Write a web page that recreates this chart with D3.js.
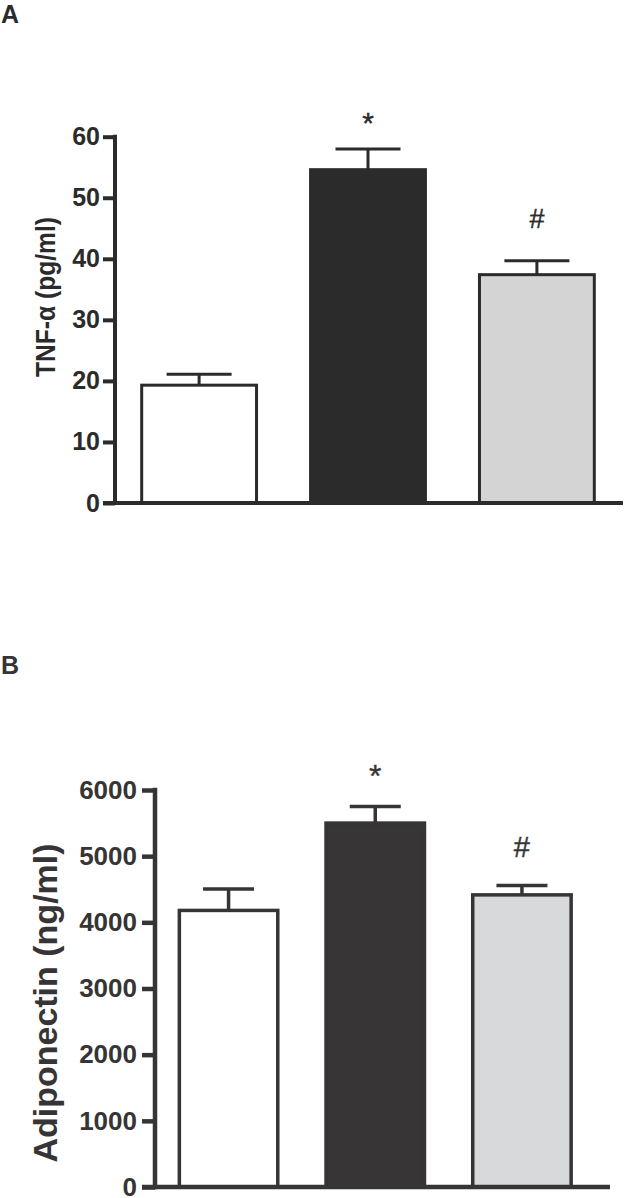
<!DOCTYPE html>
<html>
<head>
<meta charset="utf-8">
<script src="https://cdn.jsdelivr.net/npm/d3@7"></script>
<style>
  html, body { margin: 0; padding: 0; background: #fff; }
  svg { display: block; font-family: "Liberation Sans", Arial, Helvetica, sans-serif; }
</style>
</head>
<body>
<svg id="chart" width="627" height="1198"></svg>
<script>
// ---- data ----
const categories = ["Group 1", "Group 2", "Group 3"];

const tnfMean = [19.3, 54.6, 37.4];
const tnfErr  = [1.8, 3.4, 2.3];
const tnfMarks = ["", "*", "#"];
const tnfTicks = [0, 10, 20, 30, 40, 50, 60];

const adipoMean = [4180, 5500, 4415];
const adipoErr  = [325, 250, 140];
const adipoMarks = ["", "*", "#"];
const adipoTicks = [0, 1000, 2000, 3000, 4000, 5000, 6000];

// ---- drawing ----
const svg = d3.select("#chart");

function panel(cfg) {
  const g = svg.append("g");
  const ink = cfg.ink;

  const x = d3.scaleBand().domain(categories)
    .range(cfg.xRange).paddingInner(cfg.padIn).paddingOuter(cfg.padOut);
  const y = d3.scaleLinear().domain(cfg.domain).range(cfg.yRange);

  // panel letter
  g.append("text").attr("x", 1).attr("y", cfg.letterY)
    .attr("font-size", 25).attr("font-weight", "bold").attr("fill", ink)
    .text(cfg.letter);

  // bars
  g.selectAll("rect.bar").data(cfg.mean).join("rect")
    .attr("class", "bar")
    .attr("x", (d, i) => x(categories[i]))
    .attr("width", x.bandwidth())
    .attr("y", d => y(d))
    .attr("height", d => y(0) - y(d))
    .attr("fill", (d, i) => cfg.fills[i])
    .attr("stroke", ink).attr("stroke-width", cfg.barStroke);

  // error bars
  const eb = g.selectAll("g.err").data(cfg.mean).join("g").attr("class", "err");
  eb.append("line")
    .attr("x1", (d, i) => x(categories[i]) + x.bandwidth() / 2)
    .attr("x2", (d, i) => x(categories[i]) + x.bandwidth() / 2)
    .attr("y1", d => y(d))
    .attr("y2", (d, i) => y(d + cfg.err[i]))
    .attr("stroke", ink).attr("stroke-width", cfg.barStroke);
  eb.append("line")
    .attr("x1", (d, i) => x(categories[i]) + x.bandwidth() / 2 - cfg.capW / 2)
    .attr("x2", (d, i) => x(categories[i]) + x.bandwidth() / 2 + cfg.capW / 2)
    .attr("y1", (d, i) => y(d + cfg.err[i]))
    .attr("y2", (d, i) => y(d + cfg.err[i]))
    .attr("stroke", ink).attr("stroke-width", cfg.barStroke);

  // significance markers
  g.selectAll("text.mark").data(cfg.marks).join("text")
    .attr("class", "mark")
    .attr("x", (d, i) => x(categories[i]) + x.bandwidth() / 2)
    .attr("y", (d, i) => y(cfg.mean[i] + cfg.err[i]) - (cfg.markOffset[d] || 0))
    .attr("text-anchor", "middle")
    .attr("font-size", d => cfg.markSize[d] || 20).attr("fill", ink)
    .attr("stroke", ink).attr("stroke-width", 0.4)
    .text(d => d);

  // y axis
  const ax = d3.axisLeft(y).tickValues(cfg.ticks).tickFormat(d3.format("d"))
    .tickSize(cfg.tickLen).tickPadding(cfg.tickPad).tickSizeOuter(0);
  const axG = g.append("g").attr("transform", `translate(${cfg.xRange[0]},0)`).call(ax);
  axG.select(".domain").remove();
  axG.selectAll(".tick line").attr("stroke", ink).attr("stroke-width", cfg.axisStroke);
  axG.selectAll(".tick text").attr("fill", ink)
    .attr("font-size", cfg.tickFont).attr("font-weight", "bold")
    .attr("font-family", '"Liberation Sans", Arial, sans-serif');

  // axis lines
  g.append("line")
    .attr("x1", cfg.xRange[0]).attr("x2", cfg.xRange[0])
    .attr("y1", y(cfg.domain[1]) - cfg.axisStroke / 2).attr("y2", y(0) + cfg.axisStroke / 2)
    .attr("stroke", ink).attr("stroke-width", cfg.axisStroke);
  g.append("line")
    .attr("x1", cfg.xRange[0] - cfg.tickLen).attr("x2", cfg.baseEnd)
    .attr("y1", y(0)).attr("y2", y(0))
    .attr("stroke", ink).attr("stroke-width", cfg.axisStroke);

  // y label
  const lab = g.append("text")
    .attr("transform", `translate(${cfg.labelX},${cfg.labelY}) rotate(-90)`)
    .attr("text-anchor", "middle")
    .attr("font-size", cfg.labelSize).attr("font-weight", "bold").attr("fill", ink)
    .text(cfg.label);
  if (cfg.labelLen) {
    lab.attr("textLength", cfg.labelLen).attr("lengthAdjust", "spacingAndGlyphs");
  }
}

panel({
  letter: "A", letterY: 23,
  mean: tnfMean, err: tnfErr, marks: tnfMarks, ticks: tnfTicks,
  domain: [0, 60], yRange: [503, 136.7],
  xRange: [115, 621], padIn: 0.32, padOut: 0.158, baseEnd: 623,
  fills: ["#ffffff", "#2b2b2b", "#d4d4d4"], ink: "#2b2b2b",
  barStroke: 3, axisStroke: 4, capW: 65, tickLen: 12, tickPad: 3, tickFont: 25,
  markSize: {"*": 30, "#": 27}, markOffset: {"*": 16, "#": 33},
  label: "TNF-α (pg/ml)", labelX: 55, labelY: 297, labelSize: 28, labelLen: 160
});

panel({
  letter: "B", letterY: 674,
  mean: adipoMean, err: adipoErr, marks: adipoMarks, ticks: adipoTicks,
  domain: [0, 6000], yRange: [1187, 790],
  xRange: [155, 595.5], padIn: 0.329, padOut: 0.166, baseEnd: 610,
  fills: ["#ffffff", "#373536", "#d8d9db"], ink: "#363435",
  barStroke: 3.5, axisStroke: 4.5, capW: 51, tickLen: 13, tickPad: 5, tickFont: 26,
  markSize: {"*": 32, "#": 29}, markOffset: {"*": 20, "#": 29},
  label: "Adiponectin (ng/ml)", labelX: 57, labelY: 1003, labelSize: 34
});
</script>
</body>
</html>
